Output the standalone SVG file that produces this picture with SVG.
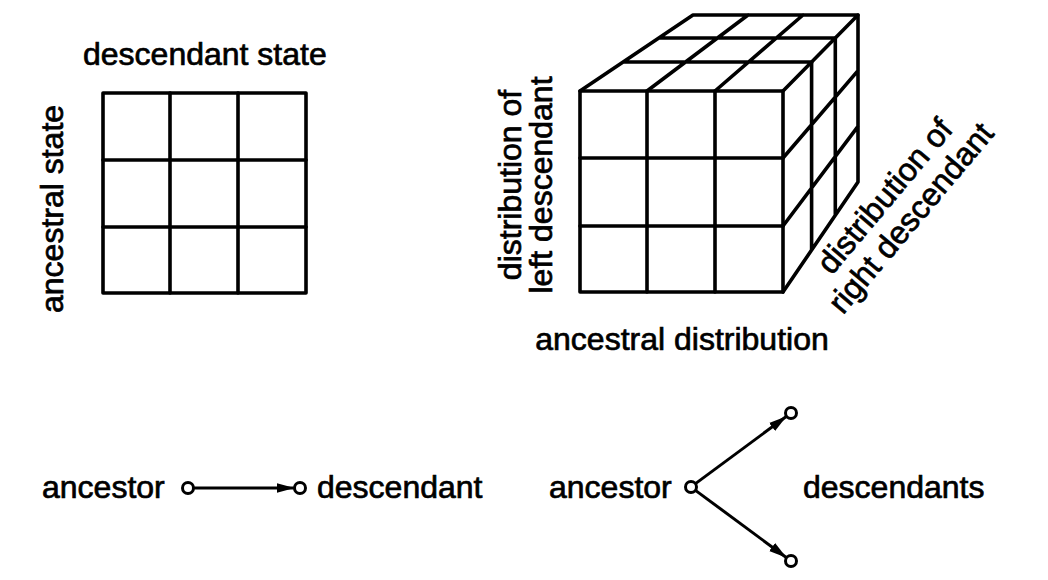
<svg xmlns="http://www.w3.org/2000/svg" width="1048" height="580" viewBox="0 0 1048 580">
<defs>
<style>
.g{fill:none;stroke:#000;stroke-width:3.6;stroke-linejoin:round;stroke-linecap:round}
.t{font-family:"Liberation Sans",Arial,sans-serif;font-size:32px;fill:#000;stroke:#000;stroke-width:0.7}
.c{fill:#fff;stroke:#000;stroke-width:3}
.a{stroke:#000;stroke-width:3;fill:none}
</style>
<marker id="ah" markerUnits="userSpaceOnUse" markerWidth="20" markerHeight="12" refX="18" refY="6" orient="auto">
<path d="M0,1 L18,6 L0,11 Z" fill="#000"/>
</marker>
</defs>
<rect width="1048" height="580" fill="#fff"/>

<g id="matrix2d">
<rect class="g" x="103" y="93" width="203" height="200"/>
<path class="g" d="M170,93V293M238,93V293M103,160H306M103,227H306"/>
<text class="t" x="83" y="65">descendant state</text>
<text class="t" transform="translate(63,313) rotate(-90)">ancestral state</text>
</g>

<g id="cube">
<rect class="g" x="580" y="91" width="203" height="201"/>
<path class="g" d="M647,91V292M715,91V292M580,158H783M580,226H783"/>
<path class="g" d="M580,91L693,15H858L783,91M647,91L748,15M715,91L803,15M623,62H812M659,38H835"/>
<path class="g" d="M858,15V182L783,292M811.6,62V249.5M835.3,38V215.3M783,158L858,70.7M783,226L858,126.3"/>
<g class="t" text-anchor="middle">
<text transform="translate(521,185) rotate(-90)">distribution of</text>
<text transform="translate(552,185) rotate(-90)">left descendant</text>
<text x="682" y="350">ancestral distribution</text>
<g transform="translate(893,203) rotate(-50)">
<text x="0" y="0">distribution of</text>
<text x="0" y="34">right descendant</text>
</g>
</g>
</g>

<g id="connectors">
<line class="a" x1="194" y1="488" x2="294.5" y2="488" marker-end="url(#ah)"/>
<line class="a" x1="695.8" y1="483.4" x2="786.6" y2="416.3" marker-end="url(#ah)"/>
<line class="a" x1="695.8" y1="490.6" x2="786.6" y2="557.7" marker-end="url(#ah)"/>
</g>

<g id="single">
<text class="t" x="42" y="498">ancestor</text>
<circle class="c" cx="188" cy="488" r="5.5"/>
<circle class="c" cx="300" cy="488" r="5.5"/>
<text class="t" x="317" y="498">descendant</text>
</g>

<g id="pair">
<text class="t" x="549" y="498">ancestor</text>
<circle class="c" cx="691" cy="487" r="5.5"/>
<circle class="c" cx="791" cy="413" r="5.5"/>
<circle class="c" cx="791" cy="561" r="5.5"/>
<text class="t" x="803" y="498">descendants</text>
</g>
</svg>
